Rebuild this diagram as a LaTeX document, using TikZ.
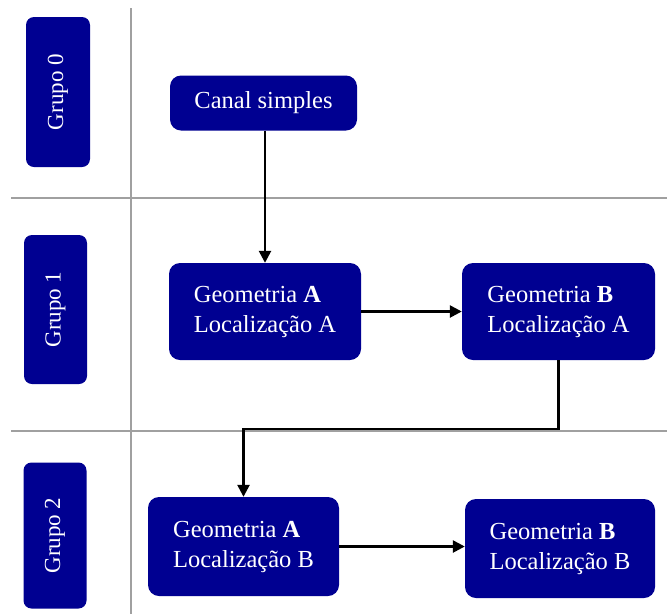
\documentclass[tikz,border=0pt]{standalone}
\usepackage{fontspec}
\setmainfont{Liberation Serif}
\usetikzlibrary{arrows.meta,calc}
\definecolor{boxblue}{RGB}{0,0,145}
\definecolor{lanegray}{RGB}{160,160,160}
\tikzset{
  grpbox/.style={fill=boxblue, draw=none, rounded corners=8pt, inner sep=0pt,
    text=white, font=\fontsize{23}{27}\selectfont, rotate=90},
  procbox/.style={fill=boxblue, draw=none, rounded corners=11pt, inner sep=0pt,
    text=white, font=\fontsize{24.5}{30}\selectfont, align=left},
  lane/.style={draw=lanegray, line width=1.2pt},
  flow/.style={draw=black, line width=2.5pt, -{Triangle[length=12pt,width=12pt]}},
}
\begin{document}
\begin{tikzpicture}[x=1pt,y=-1pt]
\useasboundingbox (0,0) rectangle (667,614);
% lanes
\coordinate (vtop) at (131,8);
\coordinate (vbot) at (131,614);
\coordinate (h1l) at (11,198);
\coordinate (h1r) at (667,198);
\coordinate (h2l) at (11,431);
\coordinate (h2r) at (667,431);
\draw[lane] (vtop) -- (vbot);
\draw[lane] (h1l) -- (h1r);
\draw[lane] (h2l) -- (h2r);
% group labels
\node[grpbox, minimum width=150pt, minimum height=64pt] (g0) at (58,92) {Grupo 0};
\node[grpbox, minimum width=149pt, minimum height=63pt] (g1) at (55.5,309.5) {Grupo 1};
\node[grpbox, minimum width=146pt, minimum height=63pt] (g2) at (55,535.5) {Grupo 2};
% process boxes
\node[procbox, minimum width=187pt, minimum height=55pt] (canal) at (263.5,103) {Canal simples};
\node[procbox, minimum width=192pt, minimum height=97pt] (a1) at (265,311.5) {Geometria \textbf{A}\\Localização A};
\node[procbox, minimum width=193pt, minimum height=97pt] (b1) at (558.5,311.5) {Geometria \textbf{B}\\Localização A};
\node[procbox, minimum width=191pt, minimum height=99pt] (a2) at (243.5,546.5) {Geometria \textbf{A}\\Localização B};
\node[procbox, minimum width=190pt, minimum height=99pt] (b2) at (560,548.5) {Geometria \textbf{B}\\Localização B};
% connectors
\coordinate (turn) at (400,429);
\draw[flow] (canal.south -| a1.north) -- (a1.north);
\draw[flow] (a1.east) -- (a1.east -| b1.west);
\draw[flow] (b1.south) -- (b1.south |- turn) -| (a2.north);
\draw[flow] (a2.east) -- (a2.east -| b2.west);
\end{tikzpicture}
\end{document}
